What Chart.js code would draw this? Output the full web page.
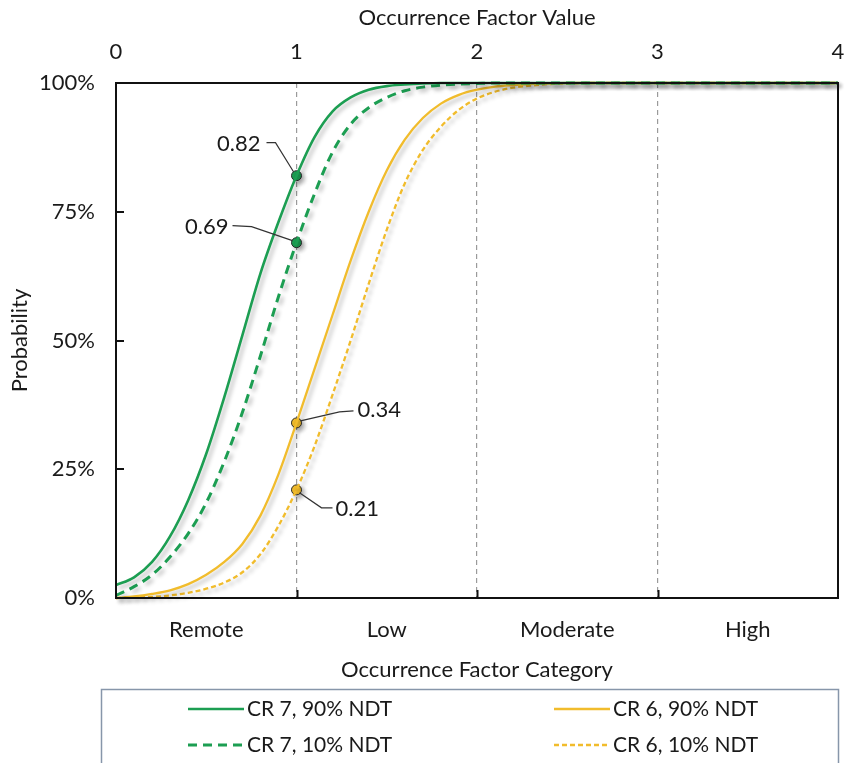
<!DOCTYPE html>
<html>
<head>
<meta charset="utf-8">
<script src="https://cdn.jsdelivr.net/npm/chart.js@4.4.1/dist/chart.umd.min.js"></script>
<style>
  html, body { margin: 0; padding: 0; background: #fff; overflow: hidden; }
  #wrap { width: 846px; height: 763px; }
  canvas { display: block; }
</style>
</head>
<body>
<div id="wrap"><canvas id="chart"></canvas></div>
<script>
// occurrence factor categories and axis ticks
const categories = ['Remote', 'Low', 'Moderate', 'High'];
const factorTicks = [0, 1, 2, 3, 4];
const probTicks = [0, 0.25, 0.5, 0.75, 1];
const seriesNames = ['CR 7, 90% NDT', 'CR 7, 10% NDT', 'CR 6, 90% NDT', 'CR 6, 10% NDT'];

// cumulative probability vs occurrence factor value
const factorValues = [0, 0.1, 0.2, 0.3, 0.4, 0.5, 0.6, 0.7, 0.8, 0.9, 1.0, 1.1, 1.2, 1.3,
  1.4, 1.5, 1.6, 1.7, 1.8, 1.9, 2.0, 2.1, 2.2, 2.3, 2.4, 2.5, 2.6, 3, 4];
const cr7Ndt90 = [0.025, 0.04, 0.07, 0.12, 0.19, 0.28, 0.39, 0.51, 0.63, 0.73, 0.82, 0.895, 0.945, 0.972,
  0.987, 0.994, 0.997, 0.999, 1, 1, 1, 1, 1, 1, 1, 1, 1, 1, 1];
const cr7Ndt10 = [0.005, 0.022, 0.045, 0.08, 0.125, 0.185, 0.265, 0.36, 0.47, 0.585, 0.69, 0.785, 0.866, 0.92,
  0.952, 0.972, 0.985, 0.992, 0.996, 0.998, 0.999, 1, 1, 1, 1, 1, 1, 1, 1];
const cr6Ndt90 = [0, 0.003, 0.008, 0.015, 0.027, 0.045, 0.07, 0.105, 0.16, 0.24, 0.34, 0.445, 0.55, 0.655,
  0.75, 0.83, 0.89, 0.932, 0.96, 0.977, 0.987, 0.993, 0.996, 0.998, 0.999, 1, 1, 1, 1];
const cr6Ndt10 = [0, 0.001, 0.002, 0.005, 0.01, 0.018, 0.03, 0.05, 0.085, 0.14, 0.21, 0.295, 0.395, 0.50,
  0.61, 0.715, 0.805, 0.87, 0.915, 0.948, 0.97, 0.983, 0.991, 0.995, 0.998, 0.999, 1, 1, 1];

// labelled points at factor value 1
const markerFactor = 1;
const markerValues = [0.82, 0.69, 0.34, 0.21];

const GREEN = '#1c9e52';
const YELLOW = '#f1bc2c';
const FONT = 'Lato';
const TEXT = '#1a1a1a';
const AXIS_FONT = { family: FONT, size: 22 };

const lineStyles = [
  { color: GREEN, dash: [], width: 2.6 },
  { color: GREEN, dash: [9, 6], width: 3 },
  { color: YELLOW, dash: [], width: 2.3 },
  { color: YELLOW, dash: [5, 3], width: 2.3 },
];

// label placement around each marker (pixel offsets)
const calloutStyles = [
  { text: [-36, -32], align: 'right', path: [[-30, -33], [-21, -33], [-3, -4]] },
  { text: [-68, -16], align: 'right', path: [[-64, -17], [-45, -16], [-4, -2]] },
  { text: [61, -13], align: 'left', path: [[4, -2], [43, -11], [57, -12]] },
  { text: [39, 19], align: 'left', path: [[3, 3], [25, 18], [36, 18]] },
];

const curves = [cr7Ndt90, cr7Ndt10, cr6Ndt90, cr6Ndt10];

const lineSets = curves.map((vals, i) => ({
  type: 'line',
  label: seriesNames[i],
  data: factorValues.map((x, j) => ({ x: x, y: vals[j] })),
  borderColor: lineStyles[i].color,
  borderDash: lineStyles[i].dash,
  borderWidth: lineStyles[i].width,
  pointRadius: 0,
  fill: false,
  cubicInterpolationMode: 'monotone',
  clip: false,
  xAxisID: 'x',
  yAxisID: 'y',
}));

const markerSets = markerValues.map((v, i) => ({
  type: 'scatter',
  label: '',
  data: [{ x: markerFactor, y: v }],
  backgroundColor: lineStyles[i].color,
  borderColor: '#2a2a2a',
  borderWidth: 1,
  pointRadius: 5,
  xAxisID: 'x',
  yAxisID: 'y',
}));

// keep the plot edges where the axis boxes put them
const noEdgePadding = s => {
  s.paddingLeft = 0; s.paddingRight = 0; s.paddingTop = 0; s.paddingBottom = 0;
};

const decor = {
  id: 'decor',
  beforeDatasetsDraw(chart) {
    const c = chart.ctx;
    c.save();
    c.shadowColor = 'rgba(0,0,0,0.28)';
    c.shadowBlur = 4;
    c.shadowOffsetX = 3;
    c.shadowOffsetY = 3;
  },
  afterDatasetsDraw(chart) {
    const c = chart.ctx;
    c.restore();
    const { left, right, top, bottom } = chart.chartArea;
    const xs = chart.scales.x, ys = chart.scales.y;

    // plot frame and inner tick marks
    c.save();
    c.strokeStyle = '#111';
    c.lineWidth = 2;
    c.strokeRect(left, top, right - left, bottom - top);
    c.beginPath();
    [0.25, 0.5, 0.75].forEach(v => {
      const y = Math.round(ys.getPixelForValue(v));
      c.moveTo(left, y); c.lineTo(left + 8, y);
    });
    [1, 2, 3].forEach(v => {
      const x = Math.round(xs.getPixelForValue(v)) + 0.5;
      c.moveTo(x, bottom); c.lineTo(x, bottom - 8);
    });
    c.stroke();
    c.restore();

    // callouts for the marked values
    c.save();
    c.font = '22px ' + FONT;
    c.fillStyle = TEXT;
    c.textBaseline = 'middle';
    markerValues.forEach((v, i) => {
      const px = xs.getPixelForValue(markerFactor);
      const py = ys.getPixelForValue(v);
      const st = calloutStyles[i];
      c.strokeStyle = '#333';
      c.lineWidth = 1.2;
      c.beginPath();
      st.path.forEach((p, k) => {
        if (k === 0) c.moveTo(px + p[0], py + p[1]);
        else c.lineTo(px + p[0], py + p[1]);
      });
      c.stroke();
      c.textAlign = st.align;
      c.fillText(v.toFixed(2), px + st.text[0], py + st.text[1]);
    });
    c.restore();
  },
  afterDraw(chart) {
    // legend box under the chart
    const c = chart.ctx;
    c.save();
    c.strokeStyle = '#8796aa';
    c.lineWidth = 1.5;
    c.strokeRect(101.5, 689.5, 737, 90);
    c.font = '21px ' + FONT;
    c.fillStyle = TEXT;
    c.textBaseline = 'middle';
    c.textAlign = 'left';
    const cols = [188, 554];
    const rows = [709, 745];
    seriesNames.forEach((name, i) => {
      const x0 = cols[Math.floor(i / 2)];
      const y0 = rows[i % 2];
      const st = lineStyles[i];
      c.strokeStyle = st.color;
      c.lineWidth = st.width;
      c.setLineDash(st.dash);
      c.beginPath();
      c.moveTo(x0, y0);
      c.lineTo(x0 + 56, y0);
      c.stroke();
      c.setLineDash([]);
      c.fillText(name, x0 + 59, y0);
    });
    c.restore();
  },
};

new Chart(document.getElementById('chart'), {
  type: 'line',
  data: { datasets: [...lineSets, ...markerSets] },
  options: {
    responsive: true,
    maintainAspectRatio: false,
    animation: false,
    layout: { padding: { left: 0, right: 8, top: 0, bottom: 0 } },
    plugins: { legend: { display: false }, tooltip: { enabled: false } },
    scales: {
      x: {
        type: 'linear',
        position: 'top',
        min: 0,
        max: 4,
        afterBuildTicks: s => { s.ticks = factorTicks.map(v => ({ value: v })); },
        afterFit: s => { s.height = 83; noEdgePadding(s); },
        ticks: { font: AXIS_FONT, color: TEXT, padding: 18, maxRotation: 0 },
        grid: {
          drawTicks: false,
          lineWidth: 1.2,
          color: ctx => (ctx.tick && ctx.tick.value > 0 && ctx.tick.value < 4) ? '#9a9a9a' : 'rgba(0,0,0,0)',
        },
        border: { display: false, dash: [5, 4] },
        title: { display: true, text: 'Occurrence Factor Value', font: AXIS_FONT, color: TEXT, padding: { top: 5, bottom: 0 } },
      },
      x2: {
        type: 'linear',
        position: 'bottom',
        min: 0,
        max: 4,
        afterBuildTicks: s => { s.ticks = categories.map((_, i) => ({ value: i + 0.5 })); },
        afterFit: s => { s.height = 165; noEdgePadding(s); },
        ticks: {
          autoSkip: false,
          maxRotation: 0,
          font: AXIS_FONT,
          color: TEXT,
          padding: 19,
          callback: (v, i) => categories[i],
        },
        grid: { display: false, drawTicks: false },
        border: { display: false },
        title: { display: true, text: 'Occurrence Factor Category', font: AXIS_FONT, color: TEXT, padding: { top: 0, bottom: 80 } },
      },
      y: {
        min: 0,
        max: 1,
        afterBuildTicks: s => { s.ticks = probTicks.map(v => ({ value: v })); },
        afterFit: s => { s.width = 116; noEdgePadding(s); },
        ticks: {
          font: AXIS_FONT,
          color: TEXT,
          padding: 21,
          callback: v => Math.round(v * 100) + '%',
        },
        grid: { display: false, drawTicks: false },
        border: { display: false },
        title: { display: true, text: 'Probability', font: AXIS_FONT, color: TEXT, padding: { top: 7, bottom: 0 } },
      },
    },
  },
  plugins: [decor],
});
</script>
</body>
</html>
